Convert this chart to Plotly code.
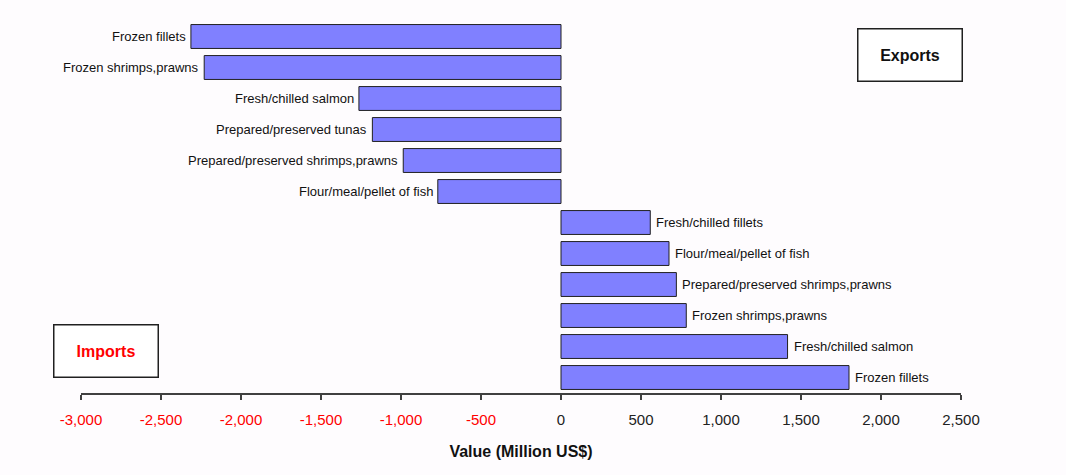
import plotly.graph_objects as go

import_names = ["Frozen fillets", "Frozen shrimps,prawns", "Fresh/chilled salmon",
                "Prepared/preserved tunas", "Prepared/preserved shrimps,prawns",
                "Flour/meal/pellet of fish"]
import_values = [-2313, -2230, -1263, -1179, -986, -770]

export_names = ["Fresh/chilled fillets", "Flour/meal/pellet of fish",
                "Prepared/preserved shrimps,prawns", "Frozen shrimps,prawns",
                "Fresh/chilled salmon", "Frozen fillets"]
export_values = [558, 675, 721, 783, 1416, 1800]

tick_values = [-3000, -2500, -2000, -1500, -1000, -500, 0, 500, 1000, 1500, 2000, 2500]

names = import_names + export_names
values = import_values + export_values
positions = list(range(len(names)))

FONT = "Liberation Sans, Arial, sans-serif"

fig = go.Figure()
fig.add_trace(go.Bar(
    x=values, y=positions, orientation="h",
    marker=dict(color="#8080FF", line=dict(color="#202020", width=1)),
    width=0.77, showlegend=False, hoverinfo="skip",
))

for n, v, p in zip(names, values, positions):
    fig.add_annotation(
        x=v, y=p, text=n, showarrow=False,
        xanchor="right" if v < 0 else "left",
        xshift=-3 if v < 0 else 4,
        font=dict(family=FONT, size=13, color="#111111"),
    )

ticktext = []
for t in tick_values:
    s = f"{t:,}"
    if t < 0:
        s = f"<span style='color:#FF0000'>{s}</span>"
    ticktext.append(s)

fig.update_xaxes(
    range=[-3000, 2500], tickvals=tick_values, ticktext=ticktext,
    ticks="outside", ticklen=5, tickcolor="#404040", tickwidth=1.5,
    showline=True, linecolor="#404040", linewidth=1.5,
    showgrid=False, zeroline=False, ticklabelstandoff=7,
    tickfont=dict(family=FONT, size=15, color="#222222"),
    title=dict(text="<b>Value (Million US$)</b>",
               font=dict(family=FONT, size=16, color="#111111"),
               standoff=19),
)
fig.update_yaxes(range=[len(names) - 0.5, -0.5], visible=False, showgrid=False, zeroline=False)

fig.add_annotation(
    xref="paper", yref="paper", x=-0.032, y=0.040, xanchor="left", yanchor="bottom",
    text="<b>Imports</b>", showarrow=False, width=101, height=49,
    bordercolor="#202020", borderwidth=1.5, bgcolor="#FFFFFF",
    font=dict(family=FONT, size=16, color="#FF0000"),
)
fig.add_annotation(
    xref="paper", yref="paper", x=0.882, y=0.836, xanchor="left", yanchor="bottom",
    text="<b>Exports</b>", showarrow=False, width=101, height=49,
    bordercolor="#202020", borderwidth=1.5, bgcolor="#FFFFFF",
    font=dict(family=FONT, size=16, color="#111111"),
)

fig.update_layout(
    width=1066, height=475,
    margin=dict(l=81, r=105, t=21, b=82),
    paper_bgcolor="#FEFCFE", plot_bgcolor="#FEFCFE",
    bargap=0.23,
)

fig.write_html("out.html")
